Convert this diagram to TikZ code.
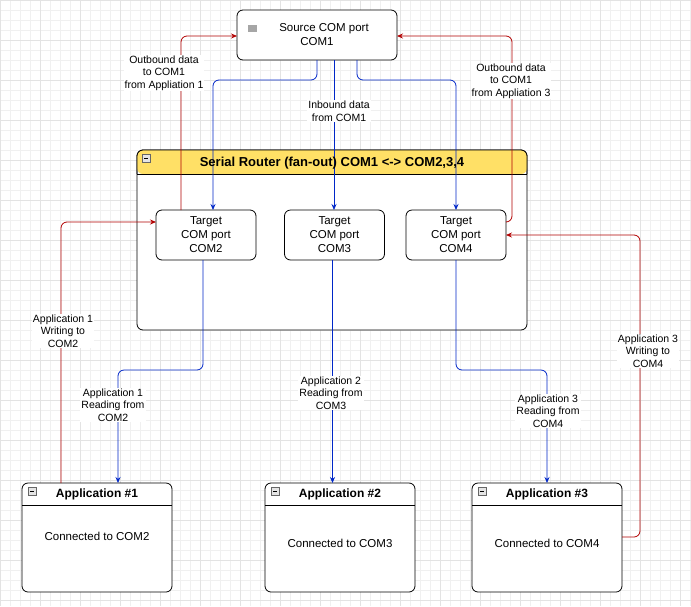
\documentclass[tikz,border=0pt]{standalone}
\usepackage{fontspec}
\setmainfont{Liberation Sans}
\usetikzlibrary{arrows.meta}
\definecolor{bl}{HTML}{0027C8}
\definecolor{rd}{HTML}{B20000}
\definecolor{hdr}{HTML}{FFE066}
\begin{document}
\begin{tikzpicture}[x=1pt,y=-1pt,
 box/.style={draw,rounded corners=6pt,fill=white,thick,align=center,font=\fontsize{11.5}{14}\selectfont},
 lbl/.style={fill=white,align=center,inner sep=1pt,font=\fontsize{10.5}{12.5}\selectfont},
 bw/.style={draw=bl,thick,rounded corners=6pt,-{Stealth[length=6pt,width=5pt]}},
 rw/.style={draw=rd,thick,rounded corners=6pt,-{Stealth[length=6pt,width=5pt]}},
 mini/.style={draw=gray!80!black,fill=gray!20,minimum size=8pt,inner sep=0pt,path picture={\draw[black] ([xshift=-2pt]path picture bounding box.center)--([xshift=2pt]path picture bounding box.center);}}]
\useasboundingbox (0,0) rectangle (691,606);
\fill[white] (0,0) rectangle (691,606);
\foreach \i in {0,10,...,690} \draw[gray!12] (\i,0) -- (\i,606);
\foreach \i in {0,10,...,600} \draw[gray!12] (0,\i) -- (691,\i);
\foreach \i in {0,40,...,690} \draw[gray!22] (\i,0) -- (\i,606);
\foreach \i in {0,40,...,600} \draw[gray!22] (0,\i) -- (691,\i);
% router container
\draw[thick,rounded corners=6pt,fill=white] (137,150) rectangle (527,330);
\path[fill=hdr,rounded corners=6pt] (137,174) -- (137,150) -- (527,150) -- (527,174) -- cycle;
\draw[thick,rounded corners=6pt] (137,174) -- (137,150) -- (527,150) -- (527,174);
\draw[thick] (137,174) -- (527,174);
\node[mini] (m0) at (146,158) {};
% source
\node[box,minimum width=160pt,minimum height=50pt] (src) at (317,35) {\hspace*{14pt}Source COM port\\COM1};
\node[fill=gray!70,minimum width=9pt,minimum height=7pt,inner sep=0pt] (ic) at (252,28) {};
% targets
\node[box,minimum width=100pt,minimum height=50pt] (t2) at (206,235) {Target\\COM port\\COM2};
\node[box,minimum width=100pt,minimum height=50pt] (t3) at (334.5,235) {Target\\COM port\\COM3};
\node[box,minimum width=100pt,minimum height=50pt] (t4) at (456,235) {Target\\COM port\\COM4};
% apps
\foreach \n/\x/\t/\ty in {1/22/COM2/536,2/265/COM3/543,3/472/COM4/543}{
 \draw[thick,rounded corners=6pt,fill=white] (\x,483) rectangle ++(150,109);
 \draw[thick] (\x,505) -- ++(150,0);
 \node[mini] (am\n) at (\x+10,491) {};
 \node[font=\bfseries\fontsize{12}{14}\selectfont] (ah\n) at (\x+75,494) {Application \#\n};
 \node[font=\fontsize{11.5}{14}\selectfont] (ab\n) at (\x+75,\ty) {Connected to \t};
}
\coordinate (a1t) at (118,483); \coordinate (a1r) at (61,483);
\coordinate (a2t) at (332.5,483); \coordinate (a3t) at (547,483);
\coordinate (a3r) at (622,537);
% blue
\draw[bw] (317,60) -- (317,80) -- (213,80) -- (213,210);
\draw[bw] (334,60) -- (334,210);
\draw[bw] (357,60) -- (357,80) -- (456,80) -- (456,210);
\draw[bw] (203,260) -- (203,370) -- (118,370) -- (a1t);
\draw[bw] (332.5,260) -- (a2t);
\draw[bw] (456,260) -- (456,370) -- (547,370) -- (a3t);
% red
\draw[rw] (a1r) -- (61,222) -- (156,222);
\draw[rw] (a3r) -- (640,537) -- (640,235) -- (506,235);
\draw[rw] (181,210) -- (181,36) -- (237,36);
\draw[rw] (506,222) -- (512,222) -- (512,36) -- (397,36);
\node[font=\bfseries\fontsize{13}{15}\selectfont] (rt) at (332,163) {Serial Router (fan-out) COM1 <-> COM2,3,4};
% labels
\node[lbl] (l1) at (164,73) {Outbound data\\to COM1\\from Appliation 1};
\node[lbl] (l2) at (511,81) {Outbound data\\to COM1\\from Appliation 3};
\node[lbl] (l3) at (339,111) {Inbound data\\from COM1};
\node[lbl] (l4) at (63,331) {Application 1\\Writing to\\COM2};
\node[lbl] (l5) at (113,405) {Application 1\\Reading from\\COM2};
\node[lbl] (l6) at (331,393) {Application 2\\Reading from\\COM3};
\node[lbl] (l7) at (548,411) {Application 3\\Reading from\\COM4};
\node[lbl] (l8) at (648,351) {Application 3\\Writing to\\COM4};
\end{tikzpicture}
\end{document}
